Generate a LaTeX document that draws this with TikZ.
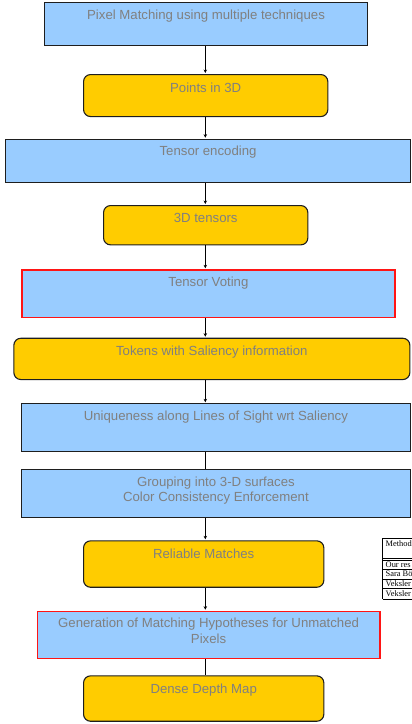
\documentclass[tikz,border=0pt]{standalone}
\usepackage{fontspec}
\setmainfont{Liberation Sans}
\newfontfamily\tabfont{Liberation Serif}
\usetikzlibrary{arrows.meta}
\definecolor{boxblue}{RGB}{153,204,255}
\definecolor{boxyellow}{RGB}{255,204,0}
\definecolor{txtgray}{RGB}{128,128,128}
\definecolor{edgedark}{RGB}{30,30,30}
\definecolor{edgered}{RGB}{255,20,20}
\tikzset{
  bluebox/.style={draw=edgedark, fill=boxblue, line width=1.1pt, inner sep=0pt},
  redbox/.style={draw=edgered, fill=boxblue, line width=1.5pt, inner sep=0pt},
  yellowbox/.style={draw=edgedark, fill=boxyellow, line width=1.1pt, rounded corners=7pt, inner sep=0pt},
  txt/.style={text=txtgray, font=\fontsize{13.2}{15.3}\selectfont, align=center, anchor=base, inner sep=0pt},
  conn/.style={draw=black, line width=0.9pt, -{Stealth[length=3.5pt,width=3.5pt]}, shorten >=1pt},
  plain/.style={draw=black, line width=0.9pt},
  tabline/.style={draw=black, line width=0.8pt},
  tabtxt/.style={font=\tabfont\fontsize{8.4}{9}\selectfont, anchor=base west, inner sep=0pt}
}
\newcommand{\flowbox}[6]{%
  \path (#2,#3) coordinate (#1nw) (#4,#5) coordinate (#1se);
  \node[#6, minimum width=#4pt-#2pt, minimum height=#5pt-#3pt, anchor=north west] (#1) at (#1nw) {};
}
\begin{document}
\begin{tikzpicture}[x=1pt,y=-1pt]
\useasboundingbox (0,0) rectangle (412,724);
\coordinate (ax) at (205.3,0);

\flowbox{b1}{44.3}{2.3}{366.7}{45}{bluebox}
\flowbox{b2}{83}{74}{327.3}{116}{yellowbox}
\flowbox{b3}{5.3}{138.7}{409.7}{182}{bluebox}
\flowbox{b4}{103}{205}{307.3}{244.3}{yellowbox}
\flowbox{b5}{21}{269.3}{394.3}{316.7}{redbox}
\flowbox{b6}{13.3}{337.7}{409.3}{379}{yellowbox}
\flowbox{b7}{21}{403.3}{409.7}{451}{bluebox}
\flowbox{b8}{21}{469}{409.7}{516.7}{bluebox}
\flowbox{b9}{83}{540.3}{323.3}{586.7}{yellowbox}
\flowbox{b10}{36.7}{610.7}{379}{657.7}{redbox}
\flowbox{b11}{83}{675.3}{323.3}{720.7}{yellowbox}

\node[txt] (t1) at ([yshift=-16.7pt]b1.north) {Pixel Matching using multiple techniques};
\node[txt] (t2) at ([yshift=-18pt]b2.north) {Points in 3D};
\node[txt] (t3) at ([yshift=-17pt]b3.north) {Tensor encoding};
\node[txt] (t4) at ([yshift=-17pt]b4.north) {3D tensors};
\node[txt] (t5) at ([yshift=-17pt]b5.north) {Tensor Voting};
\node[txt] (t6) at ([yshift=-18pt]b6.north) {Tokens with Saliency information};
\node[txt] (t7) at ([yshift=-17pt]b7.north) {Uniqueness along Lines of Sight wrt Saliency};
\node[txt, anchor=north] (t8) at ([yshift=-7.5pt]b8.north) {Grouping into 3-D surfaces\\Color Consistency Enforcement};
\node[txt] (t9) at ([yshift=-18pt]b9.north) {Reliable Matches};
\node[txt, anchor=north] (t10) at ([yshift=-7.5pt]b10.north) {Generation of Matching Hypotheses for Unmatched\\Pixels};
\node[txt] (t11) at ([yshift=-18pt]b11.north) {Dense Depth Map};

\draw[conn] (b1.south -| ax) -- (b2.north -| ax);
\draw[conn] (b2.south -| ax) -- (b3.north -| ax);
\draw[conn] (b3.south -| ax) -- (b4.north -| ax);
\draw[conn] (b4.south -| ax) -- (b5.north -| ax);
\draw[conn] (b5.south -| ax) -- (b6.north -| ax);
\draw[conn] (b6.south -| ax) -- (b7.north -| ax);
\draw[plain] (b7.south -| ax) -- (b8.north -| ax);
\draw[conn] (b8.south -| ax) -- (b9.north -| ax);
\draw[conn] (b9.south -| ax) -- (b10.north -| ax);
\draw[plain] (b10.south -| ax) -- (b11.north -| ax);

% partial table at the right edge (cut off by the picture's edge, as in the reference)
\begin{scope}
\clip (376,530) rectangle (412,605);
\draw[tabline] (382.5,538.3) -- (382.5,599);
\foreach \yy in {538.3,558,560.2,569.5,579,588.8,599}
  \draw[tabline] (382.5,\yy) -- (420,\yy);
\node[tabtxt] (h1) at (385.5,546.5) {Method};
\node[tabtxt] (r1) at (385.5,567) {Our res};
\node[tabtxt] (r2) at (385.5,576.5) {Sara B\"o};
\node[tabtxt] (r3) at (385.5,586.3) {Veksler};
\node[tabtxt] (r4) at (385.5,596.2) {Veksler};
\end{scope}
\end{tikzpicture}
\end{document}
